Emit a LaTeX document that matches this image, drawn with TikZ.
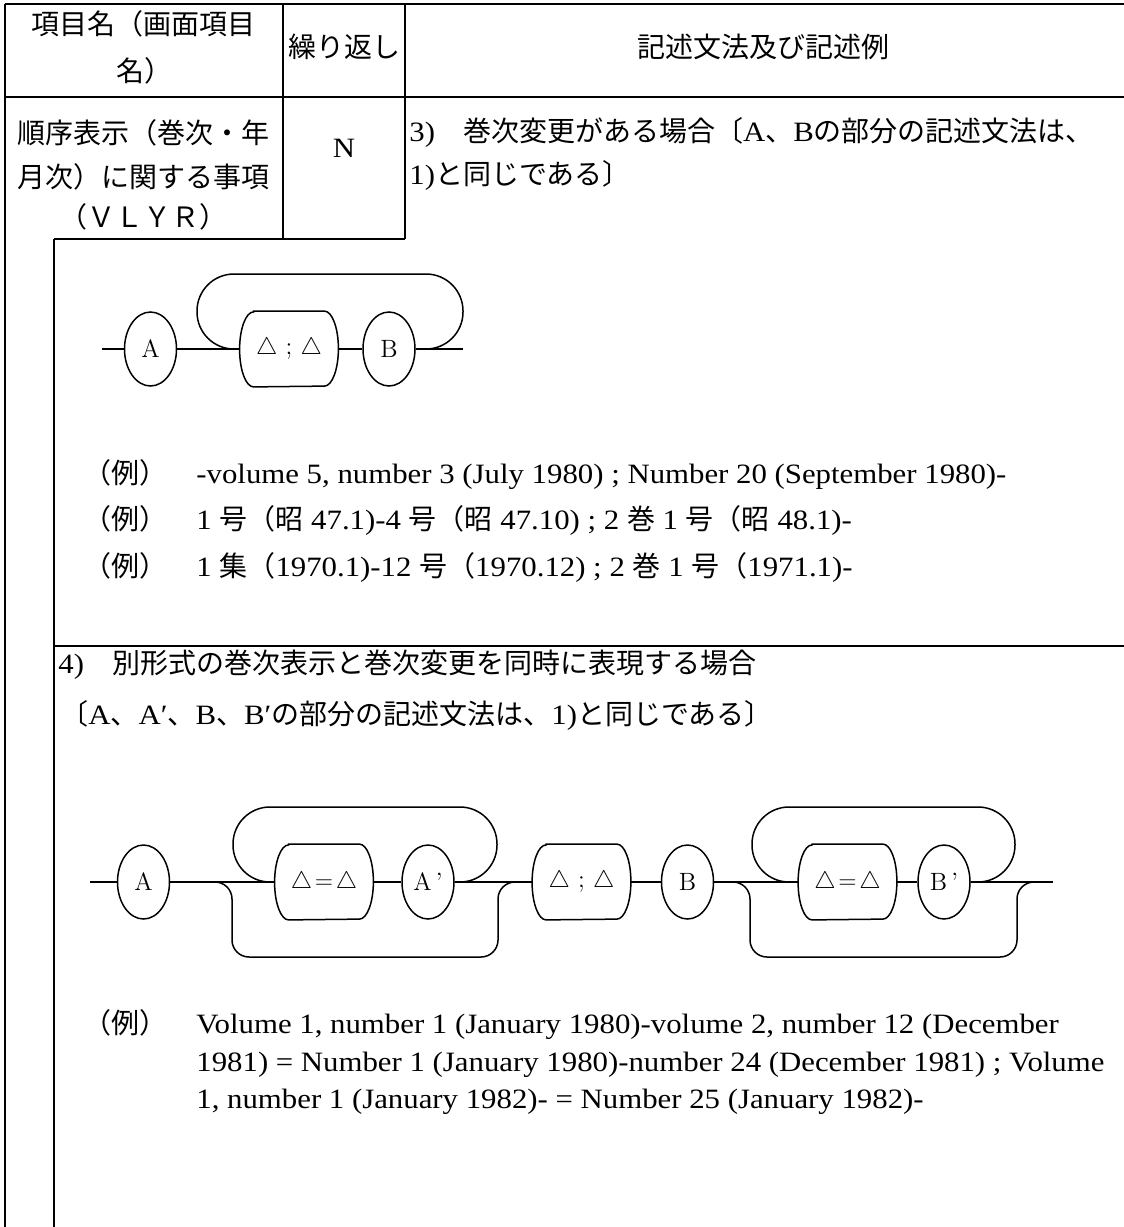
\documentclass[tikz,border=0pt]{standalone}
\usepackage{fontspec}
\newfontfamily\jp{Noto Sans CJK JP}
\newfontfamily\ser{Liberation Serif}[FakeStretch=1.1]
\newcommand\lat[1]{{\ser #1}}
\usetikzlibrary{shapes.geometric,calc}
\tikzset{
  tline/.style={line width=1pt},
  dline/.style={line width=0.75pt},
  ell/.style={ellipse, draw, dline, inner sep=0pt, minimum width=26pt, minimum height=37pt, font=\rmfamily\fontsize{12.5}{12.5}\selectfont},
  capn/.style={rectangle, inner sep=0pt, minimum width=49pt, minimum height=37.5pt, font=\rmfamily\fontsize{12.5}{12.5}\selectfont},
  jt/.style={inner sep=0pt, font=\jp\fontsize{14}{14}\selectfont},
  et/.style={inner sep=0pt, anchor=base west, font=\ser\fontsize{14}{14}\selectfont},
}
\newcommand\capshape[1]{%
  \draw[dline] ([xshift=7pt]#1.north west) -- ([xshift=-7pt]#1.north east)
    arc[start angle=90,end angle=-90,x radius=7pt,y radius=18.75pt]
    -- ([xshift=7pt]#1.south west)
    arc[start angle=270,end angle=90,x radius=7pt,y radius=18.75pt] -- cycle;}
\begin{document}
\begin{tikzpicture}[x=0.5pt,y=-0.5pt]
\useasboundingbox (0,0) rectangle (1124,1227);
% table lines
\draw[tline] (5,4) -- (1124,4);
\draw[tline] (5,4) -- (5,1227);
\draw[tline] (283,4) -- (283,239);
\draw[tline] (405,4) -- (405,239);
\draw[tline] (5,97) -- (1124,97);
\draw[tline] (54,239) -- (405,239);
\draw[tline] (54,239) -- (54,1227);
\draw[tline] (54,646) -- (1124,646);
% header
\node[jt] (h1) at (144,24) {項目名（画面項目};
\node[jt] (h1b) at (144,71) {名）};
\node[jt] (h2) at (344,47) {繰り返し};
\node[jt] (h3) at (763,47) {記述文法及び記述例};
% row 2
\node[jt] (r1a) at (144,133) {順序表示（巻次・年};
\node[jt] (r1b) at (144,177) {月次）に関する事項};
\node[jt] (r1c) at (144,217) {（ＶＬＹＲ）};
\node[inner sep=0pt, font=\ser\fontsize{14}{14}\selectfont] (rn) at (344,148) {N};
\node[jt, anchor=base west] (t3a) at (409,141) {\lat{3)}　巻次変更がある場合〔\lat{A}、\lat{B}の部分の記述文法は、};
\node[jt, anchor=base west] (t3b) at (409,184) {\lat{1)}と同じである〕};
% diagram 1
\coordinate (s1) at (102,349);
\coordinate (e1) at (463,349);
\coordinate (l1) at (197,274);
\node[ell] (a1) at (150.5,349) {A};
\node[capn] (d1) at (289,349) {$\triangle$ ; $\triangle$};
\capshape{d1}
\node[ell] (b1) at (389,349) {B};
\draw[dline] (s1) -- (a1.west);
\draw[dline] (a1.east) -- (d1.west);
\draw[dline] (d1.east) -- (b1.west);
\draw[dline] (b1.east) -- (e1);
\draw[dline, rounded corners=18.5pt] (d1.west) -| (l1) -| (e1) -- (b1.east);
% examples 1
\node[jt, anchor=base west] (x1) at (83,483) {（例）};
\node[et] (x1t) at (196,483) {-volume 5, number 3 (July 1980) ; Number 20 (September 1980)-};
\node[jt, anchor=base west] (x2) at (83,529) {（例）};
\node[jt, anchor=base west] (x2t) at (196,529) {\lat{1 }号（昭\lat{ 47.1)-4 }号（昭\lat{ 47.10) ; 2 }巻\lat{ 1 }号（昭\lat{ 48.1)-}};
\node[jt, anchor=base west] (x3) at (83,576) {（例）};
\node[jt, anchor=base west] (x3t) at (196,576) {\lat{1 }集（\lat{1970.1)-12 }号（\lat{1970.12) ; 2 }巻\lat{ 1 }号（\lat{1971.1)-}};
% section 4
\node[jt, anchor=base west] (t4a) at (58,673) {\lat{4)}　別形式の巻次表示と巻次変更を同時に表現する場合};
\node[jt, anchor=base west] (t4b) at (60,724) {〔\lat{A}、\lat{A′}、\lat{B}、\lat{B′}の部分の記述文法は、\lat{1)}と同じである〕};
% diagram 2
\coordinate (s2) at (90,882);
\coordinate (e2) at (1053,882);
\node[ell] (a2) at (143.5,882) {A};
\node[capn] (d2) at (324,882) {$\triangle\!=\!\triangle$};
\capshape{d2}
\node[ell] (ap2) at (428,882) {A\,'};
\node[capn] (d3) at (581.5,882) {$\triangle$ ; $\triangle$};
\capshape{d3}
\node[ell] (b2) at (687.5,882) {B};
\node[capn] (d4) at (847.5,882) {$\triangle\!=\!\triangle$};
\capshape{d4}
\node[ell] (bp2) at (944,882) {B\,'};
\draw[dline] (s2) -- (a2.west);
\draw[dline] (a2.east) -- (d2.west);
\draw[dline] (d2.east) -- (ap2.west);
\draw[dline] (ap2.east) -- (d3.west);
\draw[dline] (d3.east) -- (b2.west);
\draw[dline] (b2.east) -- (d4.west);
\draw[dline] (d4.east) -- (bp2.west);
\draw[dline] (bp2.east) -- (e2);
% loops
\coordinate (l2) at (233,807);
\coordinate (m2) at (497,882);
\draw[dline, rounded corners=18.5pt] (d2.west) -| (l2) -| (m2) -- (ap2.east);
\coordinate (l3) at (752,807);
\coordinate (m3) at (1015,882);
\draw[dline, rounded corners=18.5pt] (d4.west) -| (l3) -| (m3) -- (bp2.east);
% brackets
\coordinate (j1) at (215,882);
\coordinate (q1) at (232,957);
\coordinate (r1) at (498,882);
\coordinate (k1) at (517,882);
\draw[dline, rounded corners=8.5pt] (j1) -| (q1) -| (r1) -- (k1);
\coordinate (j2) at (733,882);
\coordinate (q2) at (750,957);
\coordinate (r2) at (1017,882);
\coordinate (k2) at (1034,882);
\draw[dline, rounded corners=8.5pt] (j2) -| (q2) -| (r2) -- (k2);
% examples 2
\node[jt, anchor=base west] (y1) at (83,1033) {（例）};
\node[et] (y1t) at (196,1033) {Volume 1, number 1 (January 1980)-volume 2, number 12 (December};
\node[et] (y2t) at (196,1071) {1981) = Number 1 (January 1980)-number 24 (December 1981) ; Volume};
\node[et] (y3t) at (196,1108) {1, number 1 (January 1982)- = Number 25 (January 1982)-};
\end{tikzpicture}
\end{document}
